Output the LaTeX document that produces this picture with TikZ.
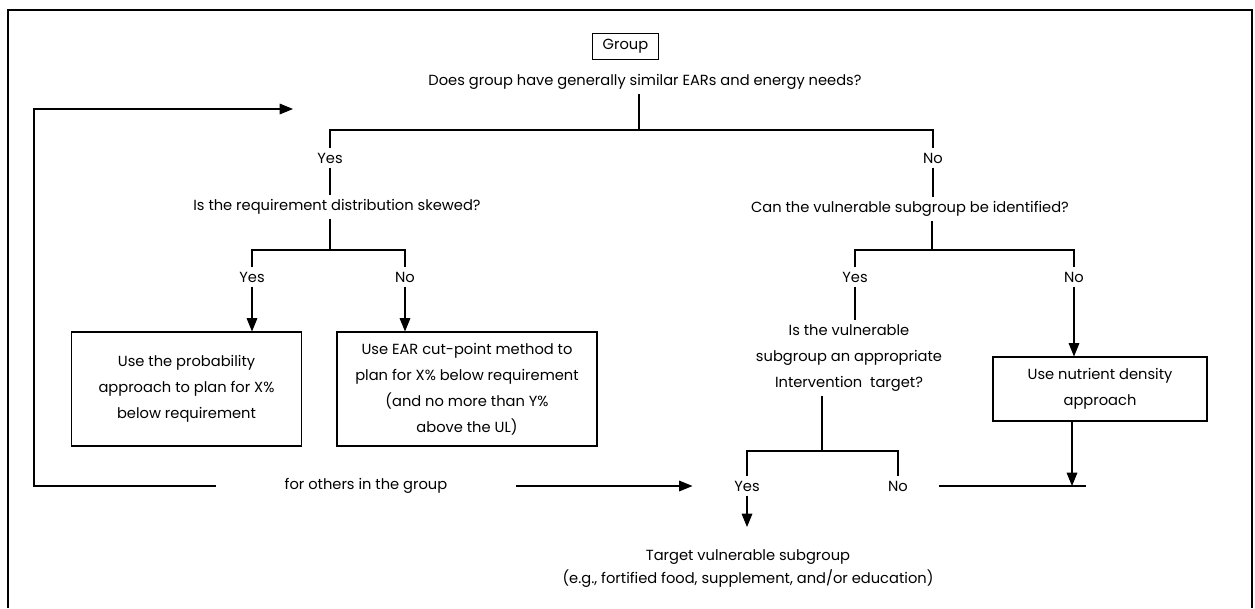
\documentclass[tikz,border=0pt]{standalone}
\usepackage{fontspec}
\setmainfont{Poppins}
\usetikzlibrary{arrows.meta}

\tikzset{every picture/.style={line width=0.8pt}}
\tikzset{
  txt/.style={font=\fontsize{11}{19.5}\selectfont, align=center, inner sep=3pt},
  boxnode/.style={txt, draw},
  arr/.style={-{Triangle[length=10pt,width=8pt]}}
}

\begin{document}
\begin{tikzpicture}[x=0.75pt,y=0.75pt,yscale=-1,xscale=1]
	\useasboundingbox (0,0) rectangle (1255,608);

	%Shape: Frame
	\draw (8,608) -- (8,10) -- (1252,10) -- (1252,608) ;

	%Shape: Rectangle [id:group]
	\node[boxnode, minimum width=50pt, minimum height=20pt] (group) at (625.5,46.5) {Group};
	% Text Node
	\node[txt] (q1) at (645,82) {Does group have generally similar EARs and energy needs?};
	% Text Node
	\node[txt] (yes1) at (330,158) {Yes};
	% Text Node
	\node[txt] (no1) at (933,158) {No};
	% Text Node
	\node[txt] (q2) at (337,207) {Is the requirement distribution skewed?};
	% Text Node
	\node[txt] (q3) at (910,209) {Can the vulnerable subgroup be identified?};
	% Text Node
	\node[txt] (yes2) at (252,277) {Yes};
	% Text Node
	\node[txt] (no2) at (405,277) {No};
	% Text Node
	\node[txt] (yes3) at (855,277) {Yes};
	% Text Node
	\node[txt] (no3) at (1074,277) {No};

	%Shape: Rectangle [id:box1]
	\node[boxnode, minimum width=173pt, minimum height=85.5pt] (probbox) at (186.5,389) {Use the probability\\approach to plan for X\%\\below requirement};
	%Shape: Rectangle [id:box2]
	\node[boxnode, minimum width=195pt, minimum height=85.5pt] (cutbox) at (467,389) {Use EAR cut-point method to\\plan for X\% below requirement\\(and no more than Y\%\\above the UL)};
	% Text Node
	\node[txt] (q4) at (849,358) {Is the vulnerable\\subgroup an appropriate\\Intervention \ target?};
	%Shape: Rectangle [id:box3]
	\node[boxnode, minimum width=160.5pt, minimum height=48pt] (densbox) at (1100,389) {Use nutrient density\\approach};

	% Text Node
	\node[txt] (others) at (366,486) {for others in the group};
	% Text Node
	\node[txt] (yes4) at (747,486) {Yes};
	% Text Node
	\node[txt] (no4) at (898,486) {No};
	% Text Node
	\node[txt, font=\fontsize{11}{17.25}\selectfont] (target) at (748,569) {Target vulnerable subgroup\\(e.g., fortified food, supplement, and/or education)};

	\coordinate (f1) at (639,130);
	\coordinate (f2) at (330,250);
	\coordinate (f3) at (932,250);
	\coordinate (f4) at (822,451);
	\coordinate (loop) at (34,109);
	\coordinate (loopend) at (293,109);
	\coordinate (join) at (1072,486);
	\coordinate (rend) at (1086,486);
	\coordinate (tgt) at (747,527);

	%Straight Lines: first question
	\draw (q1.south -| f1) -- (f1) ;
	\draw (yes1.north) |- (f1) -| (no1.north) ;
	\draw (yes1.south) -- (yes1.south |- q2.north) ;
	\draw (no1.south) -- (no1.south |- q3.north) ;

	%Straight Lines: skewed?
	\draw (q2.south -| f2) -- (f2) ;
	\draw (yes2.north) |- (f2) -| (no2.north) ;
	\draw [arr] (yes2.south) -- (yes2.south |- probbox.north) ;
	\draw [arr] (no2.south) -- (no2.south |- cutbox.north) ;

	%Straight Lines: subgroup identified?
	\draw (q3.south -| f3) -- (f3) ;
	\draw (yes3.north) |- (f3) -| (no3.north) ;
	\draw (yes3.south) -- (yes3.south |- q4.north) ;
	\draw [arr] (no3.south) -- (no3.south |- densbox.north) ;

	%Straight Lines: intervention target?
	\draw (q4.south -| f4) -- (f4) ;
	\draw (yes4.north) |- (f4) -| (no4.north) ;
	\draw [arr] (yes4.south) -- (tgt) ;
	\draw [shorten <=20pt] (no4.east) -- (rend) ;
	\draw [arr] (densbox.south -| join) -- (join) ;

	%Straight Lines: loop back
	\draw [arr, shorten <=48pt] (others.west) -| (loop) -- (loopend) ;
	\draw [arr, shorten <=48pt, shorten >=28pt] (others.east) -- (yes4.west) ;

\end{tikzpicture}
\end{document}
